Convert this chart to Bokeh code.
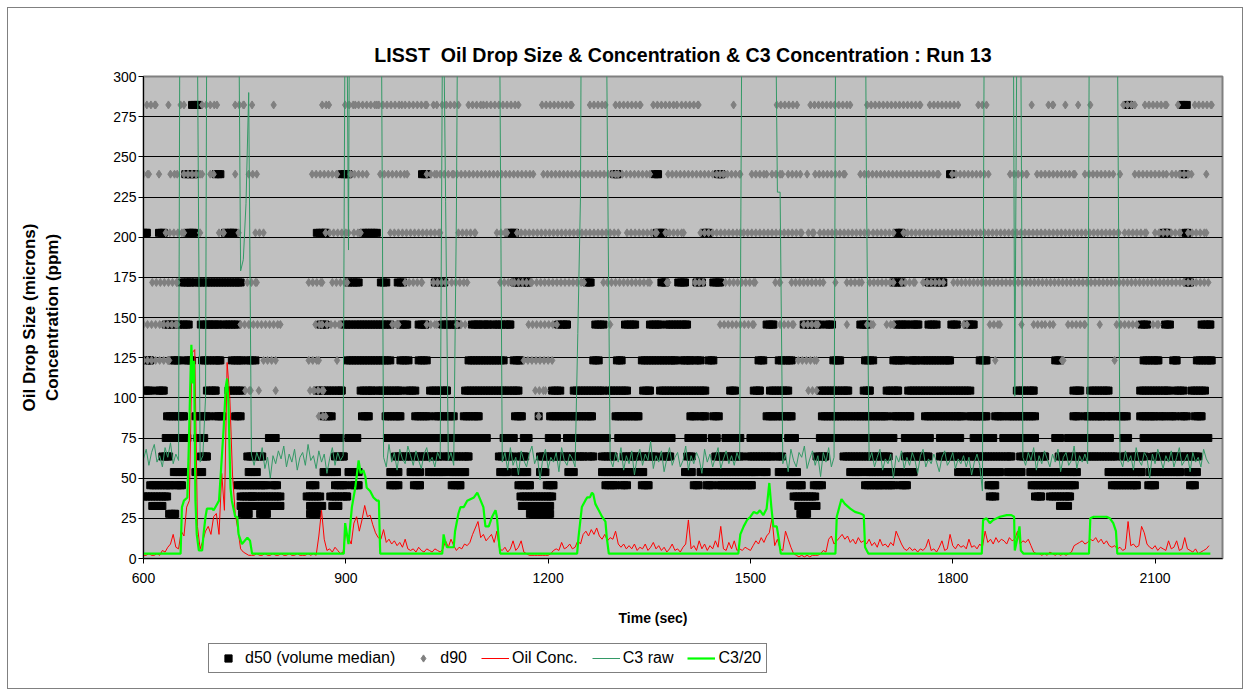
import numpy as np
from bokeh.plotting import figure
from bokeh.layouts import column
from bokeh.models import Range1d, FixedTicker, Legend, LegendItem, Label
from bokeh.embed import file_html
from bokeh.resources import INLINE

# ---------------------------------------------------------------- data
TITLE = "LISST\u00a0 Oil Drop Size & Concentration & C3 Concentration : Run 13"
X_LABEL = "Time (sec)"
Y_LABEL = "Oil Drop Size (microns)\nConcentration (ppm)"
X_TICKS = [600, 900, 1200, 1500, 1800, 2100]
Y_TICKS = list(range(0, 301, 25))

# LISST size-class mid points (microns)
SIZE_BINS = [27.8, 32.7, 38.6, 45.6, 53.8, 63.5, 75.0, 88.5, 104.5, 123.3,
             145.6, 171.8, 202.7, 239.2, 282.3]

# d50: time spans (sec) during which the volume median sits in each size class
d50_spans = {
    282.3: [(672, 682), (2060, 2062), (2139, 2147)],
    239.2: [(662, 677), (707, 714), (894, 904), (1013, 1020), (1298, 1303), (1358, 1363),
            (1452, 1457), (1796, 1798), (2141, 2145)],
    202.7: [(600, 605), (623, 630), (665, 675), (721, 734), (857, 870), (926, 946),
            (1141, 1151), (1361, 1371), (1431, 1438), (1717, 1724), (2112, 2118), (2145, 2148)],
    171.8: [(657, 670), (677, 744), (904, 919), (952, 960), (977, 985), (1032, 1036),
            (1042, 1046), (1150, 1156), (1165, 1170), (1257, 1263), (1368, 1374), (1393, 1403),
            (1420, 1428), (1445, 1455), (1712, 1724), (1764, 1766), (1776, 1786), (2147, 2152)],
    145.6: [(633, 645), (652, 667), (685, 699), (702, 712), (719, 727), (731, 739), (862, 870),
            (897, 909), (914, 966), (981, 991), (1008, 1018), (1043, 1065), (1087, 1097),
            (1102, 1112), (1119, 1144), (1215, 1228), (1270, 1282), (1314, 1329), (1351, 1366),
            (1376, 1406), (1524, 1534), (1579, 1603), (1613, 1621), (1663, 1673), (1717, 1732),
            (1739, 1749), (1764, 1776), (1798, 1806), (1821, 1831), (2080, 2088), (2115, 2122),
            (2169, 2182)],
    123.3: [(605, 610), (642, 652), (662, 672), (687, 699), (704, 714), (731, 746), (754, 766),
            (902, 966), (981, 993), (1008, 1020), (1082, 1134), (1149, 1159), (1267, 1275),
            (1302, 1309), (1339, 1388), (1398, 1411), (1418, 1426), (1438, 1445), (1512, 1519),
            (1542, 1561), (1623, 1633), (1670, 1682), (1712, 1727), (1737, 1747), (1754, 1796),
            (1840, 1850), (1952, 1959), (2083, 2105), (2127, 2132), (2162, 2184)],
    104.5: [(600, 610), (620, 630), (694, 707), (726, 746), (857, 894), (922, 939), (946, 981),
            (991, 1003), (1025, 1050), (1077, 1136), (1141, 1156), (1206, 1218), (1238, 1282),
            (1290, 1317), (1341, 1351), (1366, 1433), (1470, 1477), (1505, 1514), (1529, 1556),
            (1603, 1645), (1668, 1677), (1702, 1719), (1734, 1826), (1895, 1920), (1979, 1989),
            (2004, 2031), (2078, 2120), (2130, 2142), (2154, 2174)],
    88.5: [(635, 660), (677, 697), (707, 717), (736, 744), (867, 879), (924, 934), (959, 981),
           (1003, 1023), (1033, 1060), (1075, 1097), (1151, 1161), (1186, 1186), (1203, 1265),
           (1300, 1334), (1411, 1418), (1426, 1433), (1445, 1453), (1524, 1534), (1539, 1561),
           (1606, 1650), (1655, 1702), (1712, 1737), (1759, 1813), (1823, 1836), (1840, 1850),
           (1863, 1875), (1882, 1922), (1979, 1986), (1996, 2021), (2028, 2036), (2043, 2058),
           (2078, 2100), (2107, 2115), (2122, 2130), (2139, 2147), (2159, 2169)],
    75.0: [(633, 665), (680, 690), (786, 796), (867, 892), (904, 917), (961, 971), (978, 1010),
           (1015, 1033), (1038, 1057), (1065, 1092), (1097, 1109), (1134, 1149), (1164, 1171),
           (1201, 1213), (1228, 1260), (1270, 1287), (1304, 1312), (1322, 1383), (1408, 1430),
           (1443, 1450), (1463, 1485), (1500, 1527), (1532, 1542), (1556, 1566), (1603, 1628),
           (1636, 1712), (1729, 1766), (1781, 1791), (1801, 1811), (1831, 1860), (1875, 1922),
           (1952, 1959), (1971, 2033), (2053, 2060), (2083, 2110), (2117, 2127), (2132, 2179)],
    63.5: [(628, 638), (685, 694), (754, 761), (766, 776), (884, 897), (973, 1038), (1045, 1082),
           (1127, 1146), (1156, 1166), (1188, 1253), (1260, 1267), (1280, 1297), (1312, 1329),
           (1337, 1361), (1371, 1381), (1406, 1413), (1448, 1487), (1497, 1532), (1539, 1547),
           (1598, 1611), (1638, 1705), (1729, 1764), (1781, 1887), (1900, 1937), (1957, 1969),
           (1976, 2008), (2011, 2043), (2051, 2058), (2065, 2085), (2097, 2164)],
    53.8: [(645, 660), (677, 687), (756, 768), (867, 887), (904, 919), (966, 978), (996, 1010),
           (1023, 1045), (1055, 1077), (1129, 1139), (1151, 1169), (1188, 1196), (1230, 1238),
           (1280, 1341), (1403, 1413), (1426, 1507), (1517, 1524), (1542, 1569), (1648, 1663),
           (1673, 1719), (1724, 1742), (1808, 1870), (1882, 1902), (1915, 1959), (1967, 1984),
           (2031, 2080), (2092, 2137), (2149, 2162)],
    45.6: [(610, 640), (647, 657), (739, 759), (763, 781), (791, 798), (847, 855), (884, 899),
           (909, 919), (966, 978), (1001, 1010), (1057, 1070), (1156, 1173), (1198, 1208),
           (1285, 1300), (1309, 1317), (1339, 1349), (1416, 1423), (1435, 1443), (1453, 1502),
           (1559, 1576), (1594, 1606), (1670, 1692), (1697, 1712), (1722, 1732), (1853, 1863),
           (1917, 1981), (2036, 2073), (2090, 2100), (2152, 2159)],
    38.6: [(600, 635), (744, 761), (763, 803), (842, 862), (877, 902), (1159, 1206), (1564, 1596),
           (1855, 1863), (1922, 1931), (1944, 1974)],
    32.7: [(613, 628), (744, 759), (766, 803), (847, 865), (880, 889), (1161, 1203), (1571, 1598),
           (1959, 1971)],
    27.8: [(638, 647), (746, 756), (773, 783), (847, 857), (1173, 1203), (1574, 1584)],
}

# d90: time spans (sec) per size class
d90_spans = {
    282.3: [(605, 618), (637, 637), (655, 660), (687, 709), (736, 749), (761, 761), (793, 793),
            (865, 875), (899, 914), (919, 946), (949, 983), (988, 1020), (1030, 1035), (1043, 1067),
            (1082, 1104), (1109, 1156), (1191, 1235), (1262, 1285), (1300, 1337), (1356, 1391),
            (1398, 1423), (1475, 1475), (1539, 1569), (1589, 1648), (1673, 1752), (1766, 1808),
            (1838, 1850), (1917, 1917), (1942, 1949), (1967, 1967), (1986, 1986), (2004, 2004),
            (2053, 2070), (2085, 2117), (2134, 2134), (2159, 2184)],
    239.2: [(600, 608), (623, 623), (640, 650), (660, 687), (699, 704), (736, 736), (756, 768),
            (850, 887), (907, 931), (951, 991), (1020, 1035), (1040, 1060), (1065, 1178),
            (1193, 1300), (1304, 1351), (1378, 1455), (1460, 1485), (1502, 1524), (1532, 1547),
            (1556, 1574), (1584, 1584), (1596, 1640), (1663, 1779), (1799, 1853), (1885, 1910),
            (1925, 1981), (1996, 2038), (2048, 2048), (2070, 2117), (2125, 2154), (2176, 2176)],
    202.7: [(633, 660), (684, 684), (712, 719), (741, 741), (766, 778), (870, 904), (912, 922),
            (966, 1040), (1067, 1092), (1124, 1139), (1154, 1304), (1317, 1361), (1374, 1401),
            (1426, 1485), (1490, 1576), (1586, 1594), (1603, 1675), (1682, 1712), (1727, 2046),
            (2055, 2087), (2100, 2137), (2149, 2176)],
    171.8: [(613, 650), (754, 768), (845, 865), (880, 902), (988, 1013), (1030, 1048), (1057, 1080),
            (1129, 1146), (1150, 1176), (1183, 1253), (1282, 1351), (1376, 1378), (1418, 1430),
            (1463, 1507), (1537, 1544), (1561, 1608), (1626, 1626), (1643, 1665), (1677, 1712),
            (1724, 1744), (1756, 1786), (1801, 2179)],
    145.6: [(600, 650), (744, 758), (763, 803), (855, 865), (872, 892), (969, 978), (1020, 1035),
            (1065, 1077), (1171, 1213), (1292, 1292), (1455, 1505), (1544, 1564), (1579, 1600),
            (1643, 1643), (1673, 1682), (1702, 1712), (1816, 1821), (1855, 1870), (1902, 1902),
            (1920, 1937), (1944, 1949), (1971, 1996), (2018, 2018), (2043, 2073), (2097, 2105)],
    123.3: [(600, 638), (778, 796), (845, 860), (887, 887), (1164, 1206), (1571, 1598),
            (1863, 1863), (1962, 1964), (2040, 2040)],
    104.5: [(751, 759), (771, 771), (796, 796), (847, 867), (1181, 1196), (1586, 1598)],
    88.5: [(860, 870), (1186, 1186)],
}

# Oil concentration (ppm), one reading every 4 s from 600 s
oil_conc = [
    2, 2, 3, 2, 2, 3, 2, 5, 4, 7,
    9, 15, 7, 6, 17, 14, 32, 36, 128, 130,
    20, 6, 11, 17, 20, 15, 26, 28, 15, 53,
    30, 122, 100, 52, 28, 18, 6, 4, 3, 2,
    2, 2, 3, 2, 2, 3, 2, 2, 3, 2,
    2, 3, 2, 2, 3, 2, 2, 3, 2, 2,
    2, 3, 2, 3, 2, 14, 30, 12, 5, 6,
    4, 7, 5, 3, 4, 17, 13, 9, 22, 26,
    17, 24, 33, 26, 27, 21, 16, 13, 12, 18,
    10, 12, 9, 11, 8, 10, 7, 12, 6, 5,
    6, 4, 7, 5, 4, 6, 5, 4, 6, 5,
    4, 6, 11, 7, 12, 8, 5, 7, 6, 9,
    8, 10, 15, 19, 23, 13, 15, 11, 13, 15,
    10, 17, 6, 5, 7, 4, 6, 11, 5, 7,
    11, 4, 3, 2, 2, 2, 2, 2, 2, 2,
    2, 3, 5, 6, 5, 10, 6, 7, 9, 6,
    7, 11, 9, 15, 17, 14, 18, 15, 19, 14,
    12, 15, 11, 13, 12, 17, 9, 7, 9, 6,
    8, 6, 9, 5, 7, 6, 9, 5, 7, 10,
    6, 8, 5, 7, 4, 6, 9, 5, 6, 4,
    7, 9, 24, 6, 8, 5, 11, 6, 9, 5,
    8, 6, 11, 7, 20, 6, 5, 10, 6, 11,
    5, 6, 5, 7, 6, 5, 8, 11, 9, 13,
    10, 14, 16, 25, 8, 12, 6, 5, 17, 12,
    7, 3, 2, 1, 2, 1, 2, 1, 2, 2,
    2, 3, 5, 4, 12, 14, 9, 11, 13, 15,
    12, 14, 10, 12, 9, 13, 10, 11, 9, 12,
    8, 10, 7, 12, 8, 9, 7, 10, 8, 17,
    13, 9, 6, 5, 7, 5, 6, 4, 6, 5,
    7, 12, 5, 6, 4, 7, 11, 5, 6, 15,
    8, 6, 9, 7, 8, 6, 12, 7, 8, 6,
    9, 7, 17, 10, 12, 9, 13, 10, 12, 11,
    9, 13, 11, 12, 17, 9, 11, 10, 12, 8,
    4, 3, 3, 2, 3, 2, 4, 3, 2, 3,
    2, 3, 2, 3, 4, 8, 9, 10, 11, 9,
    10, 12, 11, 13, 10, 12, 9, 11, 8, 7,
    8, 6, 7, 5, 6, 23, 8, 9, 7, 8,
    20, 16, 9, 7, 6, 8, 5, 7, 6, 5,
    11, 6, 7, 11, 5, 6, 13, 6, 5, 4,
    6, 3, 4, 5, 6, 8,
]

# C3 raw (ppm), same 4 s grid; readings above 300 run off the top of the axis
c3_raw = [
    62, 68, 58, 66, 71, 60, 64, 57, 69, 63, 72, 59, 65, 61,
    640, 720, 760, 1300, 2600, 900, 320,
    60, 64, 100,
    620, 620, 640, 680, 900, 1300, 1700, 2200, 1600, 740, 560, 420,
    179, 186, 221, 290, 65,
    58, 66, 61, 69, 56, 63, 50, 64, 59, 67, 62, 70, 57, 65, 60, 68, 55, 63, 66, 58,
    71, 61, 64, 56, 67, 60, 65, 53, 62, 69, 58, 66, 61, 64,
    450, 192, 640,
    800, 1000, 1200, 1080, 1060, 880, 840, 760, 740, 720, 400,
    63, 57, 71, 60, 66, 55, 68, 62, 59, 70, 64, 58, 67, 61, 56, 65, 69, 60, 63, 57, 66, 62,
    380, 222,
    61, 66, 58,
    215,
    500, 640, 680, 720, 740, 760, 800, 820, 720, 640, 420, 400, 500, 580, 560, 340,
    60, 66, 55, 69, 58, 63, 52, 67, 61, 57, 65, 70, 59, 64, 49, 62, 68, 56, 63, 60,
    66, 54, 69, 61, 58, 65, 62, 57,
    140, 225,
    640, 720, 760, 800, 820, 700, 600, 520, 460,
    254,
    62, 57, 66, 60, 69, 55, 64, 59, 67, 52, 63, 68, 58, 65, 61, 73, 56, 64, 60, 67,
    54, 62, 69, 58, 63, 66, 57, 61, 70, 55, 64, 59, 66, 62, 53, 68, 60, 65, 57, 63,
    69, 56, 62, 67, 59, 64, 58, 66, 61,
    400, 440, 480, 520, 580, 560, 600, 560, 560, 620, 940, 640, 400,
    228, 228,
    59, 65, 54, 68, 61, 57, 66, 63, 70, 56, 62, 67, 58, 64, 51, 66, 60, 69, 57, 63,
    520, 680, 740, 680, 640, 620, 600, 580, 560, 560, 540,
    233,
    61, 66, 57, 63, 68, 55, 62, 59, 65, 50, 64, 60, 67, 56, 63, 58, 66, 61, 53, 64,
    68, 57, 62, 59, 65, 60, 54, 63, 67, 58, 61, 66, 56, 62, 59, 64, 57, 63, 52, 60,
    65, 58,
    42,
    480, 500, 460, 480, 500, 520, 520, 540, 540, 540, 540,
    101, 400, 400,
    63, 58, 66, 61, 69, 55, 64, 59, 67, 62, 57, 65, 60, 68, 54, 63, 66, 58, 61, 70,
    56, 64, 60, 65, 59,
    500, 520, 520, 520, 520, 520, 520, 500, 460, 400, 340,
    62, 57, 67, 60, 64, 55, 69, 61, 58, 66, 63, 50, 65, 59, 68, 62, 56, 64, 60, 67,
    57, 63, 69, 58, 61, 65, 54, 66, 60, 63, 57, 68, 62, 59,
]

# C3/20 (ppm) as (time, value) readings
c3_20_time = [
    600, 655, 657, 660, 665, 667, 670, 671, 673, 675, 677, 679, 682, 687, 689, 692, 694, 702,
    704, 708, 712, 714, 719, 722, 724, 726, 729, 731, 736, 739, 741, 746, 754, 758, 761, 897,
    899, 904, 909, 914, 919, 922, 926, 929, 931, 936, 941, 946, 949, 951, 1043, 1045, 1047,
    1050, 1060, 1062, 1067, 1070, 1075, 1080, 1090, 1095, 1100, 1104, 1107, 1112, 1117, 1122,
    1124, 1127, 1129, 1243, 1245, 1250, 1255, 1258, 1262, 1265, 1267, 1270, 1275, 1280, 1285,
    1287, 1290, 1482, 1485, 1490, 1495, 1500, 1505, 1510, 1514, 1519, 1524, 1528, 1531, 1534,
    1539, 1541, 1545, 1626, 1628, 1635, 1640, 1648, 1655, 1663, 1668, 1670, 1675, 1843, 1845,
    1850, 1855, 1860, 1870, 1880, 1887, 1891, 1892, 1895, 1899, 1901, 1905, 2002, 2004, 2009,
    2018, 2028, 2033, 2038, 2042, 2044, 2182,
]
c3_20_ppm = [
    3, 3, 32, 36, 38, 67, 119, 133, 109, 123, 36, 15, 5, 5, 15, 26, 31, 31,
    30, 33, 36, 49, 82, 107, 112, 96, 44, 36, 26, 26, 15, 9, 13, 11, 3, 3,
    22, 9, 32, 44, 61, 53, 55, 51, 44, 42, 38, 36, 36, 3, 3, 15, 11,
    7, 7, 17, 28, 32, 32, 36, 38, 41, 36, 32, 20, 20, 26, 30,
    26, 11, 3, 3, 13, 32, 36, 38, 38, 41, 40, 34, 30, 26, 23,
    13, 3, 3, 15, 20, 24, 26, 29, 28, 30, 27, 31, 47, 32, 20,
    20, 15, 3, 3, 26, 37, 34, 31, 29, 28, 27, 7, 3, 3, 24,
    25, 22, 24, 26, 27, 27, 26, 5, 11, 20, 5, 3, 3, 25, 26,
    26, 26, 25, 22, 17, 3, 3,
]

# ---------------------------------------------------------------- helpers
def span_points(spans, step):
    xs, ys = [], []
    for size, runs in spans.items():
        for start, end in runs:
            t = start
            while t <= end:
                xs.append(t)
                ys.append(size)
                t += step
            if xs[-1] < end:
                xs.append(end)
                ys.append(size)
    return xs, ys


d50_t, d50_v = span_points(d50_spans, 4)
d90_t, d90_v = span_points(d90_spans, 6)
grid_t = [600 + 4 * k for k in range(len(oil_conc))]
c3_t = [600 + 4 * k for k in range(len(c3_raw))]

FONT = "Liberation Sans"
STYLE = {
    "d50": dict(marker="square", size=7, color="black"),
    "d90": dict(marker="diamond", size=8, color="#808080"),
    "oil": dict(line_color="#FF0000", line_width=1),
    "raw": dict(line_color="#339966", line_width=1),
    "c320": dict(line_color="#00FF00", line_width=2.2),
}

# ---------------------------------------------------------------- main plot
p = figure(frame_width=1079, frame_height=482, output_backend="svg", toolbar_location=None,
           x_range=Range1d(600, 2200), y_range=Range1d(0, 300),
           min_border_left=135, min_border_right=20, min_border_top=68,
           min_border_bottom=34, title=TITLE)

p.background_fill_color = "#C0C0C0"
p.border_fill_color = "white"
p.outline_line_color = "#808080"
p.outline_line_width = 2

p.title.align = "center"
p.title.text_font = FONT
p.title.text_font_size = "19.6px"
p.title.text_font_style = "bold"
p.title.text_color = "black"
p.title.standoff = 22

p.xgrid.grid_line_color = None
p.ygrid.grid_line_color = "black"
p.ygrid.grid_line_width = 1
p.ygrid.ticker = FixedTicker(ticks=Y_TICKS)

p.xaxis.ticker = FixedTicker(ticks=X_TICKS)
p.yaxis.ticker = FixedTicker(ticks=Y_TICKS)
for ax in (p.xaxis, p.yaxis):
    ax.axis_line_color = "black"
    ax.major_tick_line_color = "black"
    ax.minor_tick_line_color = None
    ax.major_tick_out = 5
    ax.major_tick_in = 0
    ax.major_label_text_font = FONT
    ax.major_label_text_font_size = "14px"
    ax.major_label_text_color = "black"
    ax.axis_label_text_font = FONT
    ax.axis_label_text_font_style = "bold"
    ax.axis_label_text_color = "black"

p.yaxis.major_label_standoff = 2
p.xaxis.major_label_standoff = 9
p.yaxis.axis_label = Y_LABEL
p.yaxis.axis_label_text_font_size = "17px"
p.yaxis.axis_label_standoff = 48

p.scatter(d50_t, d50_v, **STYLE["d50"])
p.scatter(d90_t, d90_v, **STYLE["d90"])
p.line(grid_t, oil_conc, **STYLE["oil"])
p.line(c3_t, c3_raw, **STYLE["raw"])
p.line(c3_20_time, c3_20_ppm, **STYLE["c320"])

# ---------------------------------------------------------------- axis title + legend strip
STRIP_H = 680 - (68 + 482 + 34)
q = figure(width=1234, height=STRIP_H, output_backend="svg", toolbar_location=None,
           x_axis_type=None, y_axis_type=None, min_border=0,
           x_range=Range1d(0, 1), y_range=Range1d(0, 1))
q.outline_line_color = None
q.background_fill_color = "white"
q.border_fill_color = "white"
q.xgrid.visible = False
q.ygrid.visible = False

q.add_layout(Label(x=475, y=STRIP_H - 25, x_units="screen", y_units="screen",
                   text=X_LABEL, text_font=FONT, text_font_size="14px",
                   text_font_style="bold", text_color="black",
                   text_align="left", text_baseline="middle"))

nan = [float("nan")]
k_d50 = q.scatter(nan, nan, **STYLE["d50"])
k_d90 = q.scatter(nan, nan, **STYLE["d90"])
k_oil = q.line(nan * 2, nan * 2, **STYLE["oil"])
k_raw = q.line(nan * 2, nan * 2, **STYLE["raw"])
k_c320 = q.line(nan * 2, nan * 2, **STYLE["c320"])

legend = Legend(items=[
    LegendItem(label="d50 (volume median)", renderers=[k_d50]),
    LegendItem(label="d90", renderers=[k_d90]),
    LegendItem(label="Oil Conc.", renderers=[k_oil]),
    LegendItem(label="C3 raw", renderers=[k_raw]),
    LegendItem(label="C3/20", renderers=[k_c320]),
], orientation="horizontal", location=(65, 15))
legend.label_text_font = FONT
legend.label_text_font_size = "16px"
legend.label_text_color = "black"
legend.glyph_width = 28
legend.glyph_height = 18
legend.label_standoff = 3
legend.spacing = 14
legend.padding = 5
legend.margin = 0
legend.border_line_color = "black"
legend.border_line_width = 1
legend.background_fill_color = "white"
q.add_layout(legend, "center")

# thin frame round the whole chart area
layout = column(p, q, spacing=0, margin=(7, 7, 7, 7),
                styles={"border": "1px solid #808080"})

open("out.html", "w").write(file_html(layout, INLINE))
